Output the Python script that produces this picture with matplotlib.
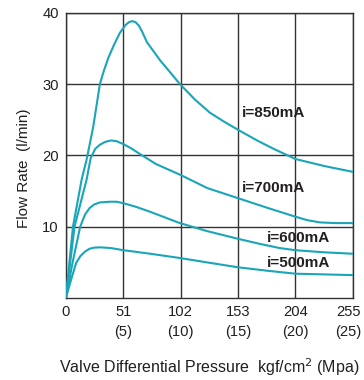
import matplotlib
matplotlib.use("Agg")
import matplotlib.pyplot as plt
from matplotlib.transforms import ScaledTranslation

plt.rcParams['font.family'] = ['Liberation Sans', 'DejaVu Sans']

# Flow rate curves (l/min) vs valve differential pressure (kgf/cm2)
x_850 = [0, 6.3, 14, 18.4, 24.3, 30.2, 34, 38, 43, 48, 53, 56, 59, 62, 65, 68, 72, 78, 84, 92, 101.4, 115, 128, 140, 153, 170, 185, 204, 230, 255]
y_850 = [0, 10, 16.6, 19.4, 24.0, 30, 32, 33.8, 35.6, 37.2, 38.3, 38.7, 38.85, 38.7, 38.2, 37.3, 35.9, 34.6, 33.3, 31.8, 30, 27.8, 26, 24.8, 23.6, 22.1, 20.9, 19.5, 18.5, 17.7]

x_700 = [0, 7.7, 18.4, 22, 26, 30.2, 35, 40, 45, 51, 58, 65.8, 80, 101.4, 126, 153, 180, 204, 215, 226, 240, 255]
y_700 = [0, 10, 16.6, 19.6, 20.9, 21.5, 21.9, 22.1, 22.0, 21.6, 21.0, 20.2, 18.8, 17.3, 15.4, 14.0, 12.6, 11.4, 10.9, 10.6, 10.5, 10.5]

x_600 = [0, 6, 12.7, 17, 21, 25, 30, 39, 45, 51, 62, 74.7, 88, 101.4, 125, 153, 172, 190, 204, 230, 255]
y_600 = [0, 5, 10, 11.7, 12.6, 13.1, 13.4, 13.5, 13.5, 13.3, 12.8, 12.1, 11.3, 10.5, 9.4, 8.3, 7.6, 7.0, 6.7, 6.4, 6.2]

x_500 = [0, 4.7, 9.1, 13, 17, 21, 25, 30, 40, 51, 75, 101.4, 125, 153, 180, 204, 230, 255]
y_500 = [0, 2.6, 4.9, 5.9, 6.5, 6.9, 7.05, 7.1, 7.0, 6.7, 6.2, 5.6, 5.0, 4.3, 3.8, 3.4, 3.3, 3.2]

series = [(x_850, y_850), (x_700, y_700), (x_600, y_600), (x_500, y_500)]
labels = ["i=850mA", "i=700mA", "i=600mA", "i=500mA"]
label_pos = [(156.5, 26.0), (156.5, 15.4), (179, 8.4), (179, 4.9)]

xticks = [0, 51, 102, 153, 204, 255]
xticklabels = ["0", "51\n(5)", "102\n(10)", "153\n(15)", "204\n(20)", "255\n(25)"]
yticks = [10, 20, 30, 40]

teal = "#1aa5b8"
text_c = "#231f20"
grid_c = "#333333"

fig = plt.figure(figsize=(3.64, 3.80), dpi=100)
ax = fig.add_axes([0.181, 0.216, 0.788, 0.750])

for xs, ys in series:
    ax.plot(xs, ys, color=teal, lw=1.5, solid_joinstyle='round', zorder=3)

for lab, (lx, ly) in zip(labels, label_pos):
    ax.text(lx, ly, lab, fontsize=11, fontweight='bold', color=text_c,
            ha='left', va='center', zorder=4)

ax.set_xlim(0, 255)
ax.set_ylim(0, 40)
ax.set_xticks(xticks)
ax.set_xticklabels(xticklabels, linespacing=1.55)
ax.set_yticks(yticks)
ax.tick_params(length=0, labelsize=10.6, labelcolor=text_c, pad=5)
ax.grid(True, color=grid_c, lw=1.0)
for s in ax.spines.values():
    s.set_color(grid_c)
    s.set_linewidth(1.0)

# nudge the last x tick label so it stays inside the figure
last = ax.get_xticklabels()[-1]
last.set_transform(last.get_transform() + ScaledTranslation(-4 / 100, 0, fig.dpi_scale_trans))

ax.set_ylabel("Flow Rate  (l/min)", fontsize=11, color=text_c)
ax.yaxis.set_label_coords(-0.122, 0.456)
ax.set_xlabel("Valve Differential Pressure  kgf/cm$^2$ (Mpa)", fontsize=11.5, color=text_c)
ax.xaxis.set_label_coords(0.5, -0.205)

fig.savefig("out.png", dpi=100)
